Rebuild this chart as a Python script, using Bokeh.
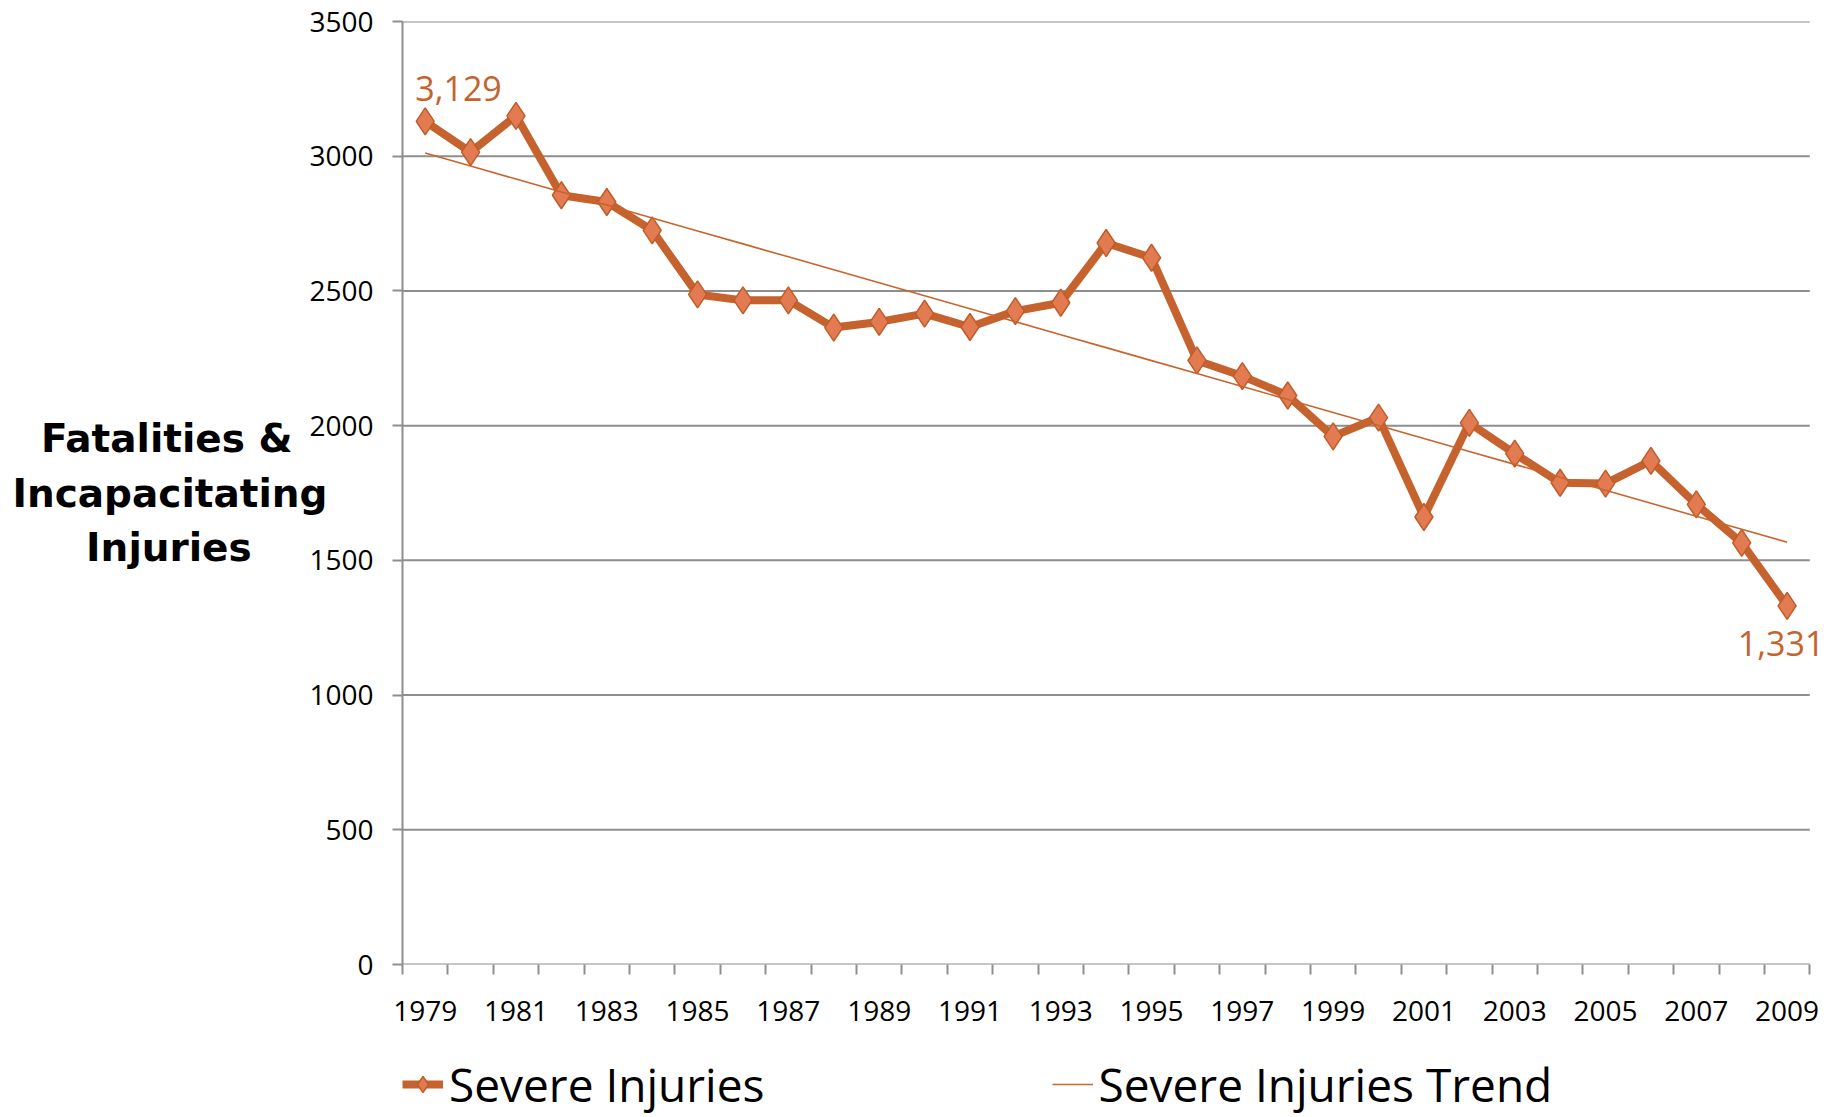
from bokeh.plotting import figure
from bokeh.layouts import column
from bokeh.models import Range1d, FixedTicker, Label, Legend, LegendItem
from bokeh.embed import file_html
from bokeh.resources import INLINE
import numpy as np

# ---- data ----
years = list(range(1979, 2010))
severe_injuries = [3129, 3015, 3150, 2855, 2830, 2725, 2487, 2465, 2465, 2364,
                   2385, 2416, 2366, 2425, 2456, 2678, 2623, 2242, 2184, 2112,
                   1960, 2030, 1661, 2010, 1896, 1788, 1785, 1869, 1708, 1565,
                   1331]
x_tick_years = list(range(1979, 2010, 2))
x_tick_labels = [str(y) for y in x_tick_years]
y_ticks = [0, 500, 1000, 1500, 2000, 2500, 3000, 3500]
y_title_lines = ["Fatalities &", "Incapacitating", "Injuries"]
series_name = "Severe Injuries"
trend_name = "Severe Injuries Trend"

# linear trend line (least squares, like the spreadsheet trendline)
slope, intercept = np.polyfit(years, severe_injuries, 1)
trend_values = [slope * y + intercept for y in years]

# ---- style ----
LINE_C = "#C5622D"
FILL_C = "#E27B52"
MARK_LINE_C = "#C05C28"
TREND_C = "#C8642E"
GRID_C = "#8E8E8E"
FONT = "Open Sans"

x_start = years[0] - 0.5
x_end = years[-1] + 0.5

p = figure(width=1839, height=1040, output_backend="svg", toolbar_location=None,
           x_range=Range1d(x_start, years[-1] + 1.0),
           y_range=Range1d(y_ticks[0], y_ticks[-1]),
           min_border_left=402, min_border_right=7,
           min_border_top=21, min_border_bottom=76)
p.outline_line_color = None
p.background_fill_color = "white"
p.xgrid.visible = False
p.ygrid.visible = False

# horizontal gridlines spanning only the category area
p.segment(x0=[x_start] * len(y_ticks), x1=[x_end] * len(y_ticks),
          y0=y_ticks, y1=y_ticks, line_color=GRID_C, line_width=2)

# y axis
ya = p.yaxis[0]
ya.ticker = FixedTicker(ticks=y_ticks)
ya.axis_line_color = GRID_C
ya.axis_line_width = 2
ya.major_tick_line_color = GRID_C
ya.major_tick_line_width = 2
ya.major_tick_out = 10
ya.major_tick_in = 0
ya.minor_tick_line_color = None
ya.major_label_text_font = FONT
ya.major_label_text_font_size = "28px"
ya.major_label_text_color = "black"
ya.major_label_standoff = 19

# multi-line horizontal title; lines padded with no-break spaces so they look centred
NB = "\u00a0"
TH = "\u2009"
pads = [NB * 2 + TH, "", NB * 5 + TH]
ya.axis_label = "\n".join(t + pd for t, pd in zip(y_title_lines, pads))
ya.axis_label_orientation = "horizontal"
ya.axis_label_text_font = "DejaVu Sans"
ya.axis_label_text_font_style = "bold"
ya.axis_label_text_font_size = "39px"
ya.axis_label_text_color = "black"
ya.axis_label_text_line_height = 1.22
ya.axis_label_standoff = -21

# x axis
boundaries = [y - 0.5 for y in years] + [x_end]
xa = p.xaxis[0]
xa.ticker = FixedTicker(ticks=x_tick_years, minor_ticks=boundaries)
xa.major_label_overrides = dict(zip(x_tick_years, x_tick_labels))
xa.axis_line_color = None
xa.major_tick_line_color = None
xa.major_tick_out = 10
xa.major_tick_in = 0
xa.minor_tick_line_color = GRID_C
xa.minor_tick_line_width = 2
xa.minor_tick_out = 10
xa.minor_tick_in = 0
xa.major_label_text_font = FONT
xa.major_label_text_font_size = "28px"
xa.major_label_text_color = "black"
xa.major_label_standoff = 26

# series
p.line(years, severe_injuries, line_width=8, line_color=LINE_C, line_join="round")
p.scatter(years, severe_injuries, marker="diamond", size=27,
          fill_color=FILL_C, line_color=MARK_LINE_C, line_width=1.5)
p.line(years, trend_values, line_width=1.6, line_color=TREND_C)

# data labels (first & last)
p.add_layout(Label(x=years[0], y=severe_injuries[0], text=f"{severe_injuries[0]:,}",
                   x_offset=-10, y_offset=33, text_align="left", text_baseline="alphabetic",
                   text_font=FONT, text_font_size="34px", text_color=LINE_C))
p.add_layout(Label(x=years[-1], y=severe_injuries[-1], text=f"{severe_injuries[-1]:,}",
                   x_offset=-6, y_offset=-38, text_align="center", text_baseline="alphabetic",
                   text_font=FONT, text_font_size="34px", text_color=LINE_C))

# ---- legend strip below the chart (its frame lines up with the chart's frame) ----
pl = figure(width=1839, height=76, output_backend="svg", toolbar_location=None,
            x_range=Range1d(0, 1), y_range=Range1d(0, 1),
            x_axis_location=None, y_axis_location=None,
            min_border_left=402, min_border_right=7, min_border_top=0, min_border_bottom=0)
pl.outline_line_color = None
pl.xgrid.visible = False
pl.ygrid.visible = False
# legend proxies (same data, lying outside this strip's ranges, so only the legend shows)
lg_line = pl.line(years, severe_injuries, line_width=8, line_color=LINE_C)
lg_mark = pl.scatter(years, severe_injuries, marker="diamond", size=27,
                     fill_color=FILL_C, line_color=MARK_LINE_C, line_width=1.5)
lg_trend = pl.line(years, trend_values, line_width=1.6, line_color=TREND_C)

legend = Legend(items=[LegendItem(label=series_name, renderers=[lg_line, lg_mark]),
                       LegendItem(label=trend_name, renderers=[lg_trend])],
                orientation="horizontal", location=(0, 1), padding=0, margin=0,
                border_line_color=None, background_fill_alpha=0,
                label_text_font=FONT, label_text_font_size="46px",
                label_text_color="black",
                glyph_width=41, glyph_height=44, label_height=40,
                label_standoff=6, spacing=287)
pl.add_layout(legend)

layout = column(p, pl, spacing=0)
open("out.html", "w").write(file_html(layout, INLINE))
